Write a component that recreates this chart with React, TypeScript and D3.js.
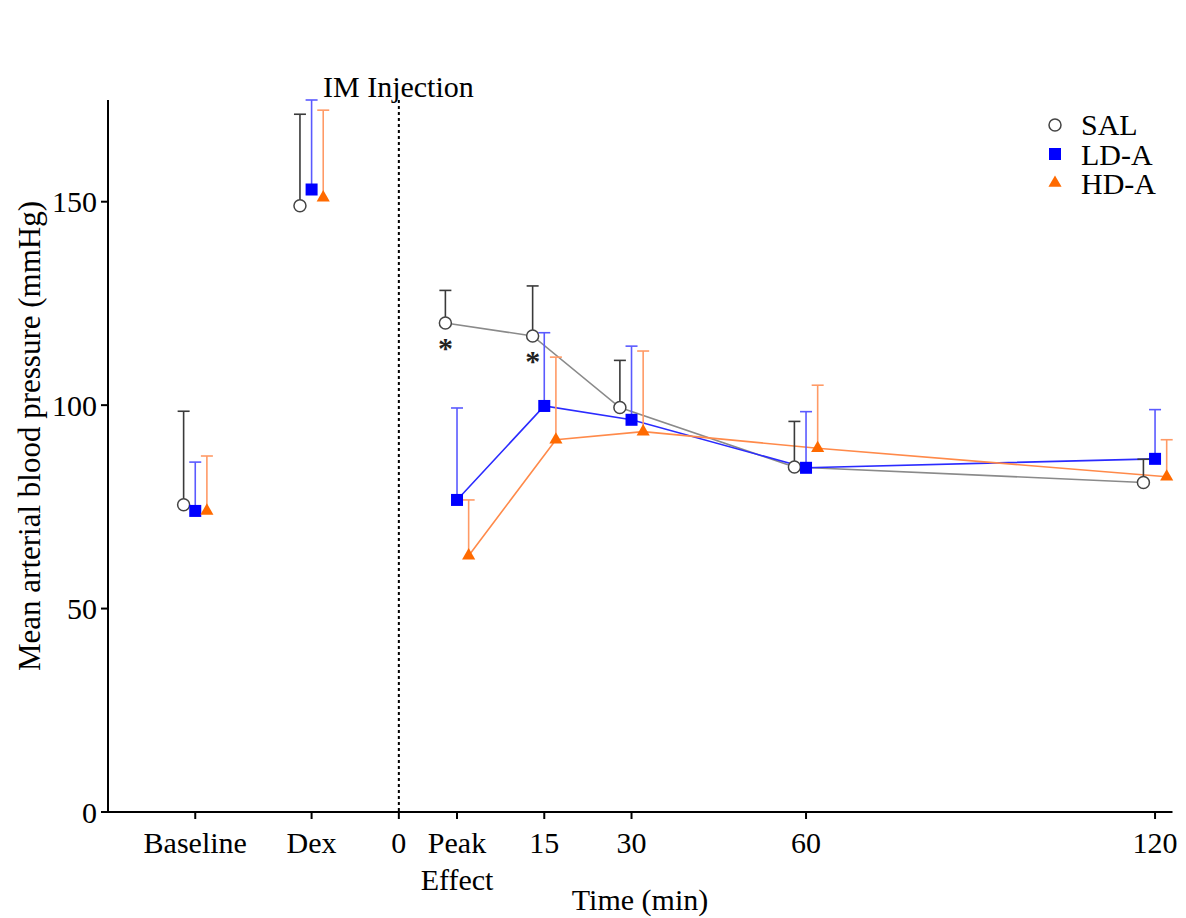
import React from "react";
import * as d3 from "d3";

const tickTimes = [-45, -25, -10, 0, 15, 30, 60, 120];
const tickLabels = ["Baseline", "Dex", "0", "Peak", "15", "30", "60", "120"];
const pointTimes = [-45, -25, 0, 15, 30, 60, 120];
const yTicks = [0, 50, 100, 150];

const salMean = [75.5, 149, 120.2, 117, 99.4, 84.8, 81];
const salErr = [23, 22.5, 8, 12.3, 11.6, 11.2, 5.7];
const ldMean = [74, 153, 76.7, 99.8, 96.4, 84.6, 86.8];
const ldErr = [12, 22, 22.6, 18, 18.1, 13.8, 12.1];
const hdMean = [74, 151, 63, 91.5, 93.5, 89.4, 82.4];
const hdErr = [13.5, 21.5, 13.7, 20.3, 19.8, 15.5, 9.1];

const seriesNames = ["SAL", "LD-A", "HD-A"];
const starIdx = [2, 3];

const FONT = "'Liberation Serif', 'Times New Roman', serif";

export default function App() {
  const W = 1186, H = 918;
  const x = d3.scaleLinear().domain([-60, 123]).range([108, 1172.5]);
  const y = d3.scaleLinear().domain([0, 175]).range([812, 100]);

  const series = [
    { name: seriesNames[0], mean: salMean, err: salErr, off: -2, line: "#8a8a8a", errc: "#3a3a3a", shape: "circle" },
    { name: seriesNames[1], mean: ldMean, err: ldErr, off: 0, line: "#2b2bff", errc: "#5a5aff", shape: "square" },
    { name: seriesNames[2], mean: hdMean, err: hdErr, off: 2, line: "#ff8a4a", errc: "#ff9a66", shape: "triangle" },
  ];

  const marker = (shape: string, cx: number, cy: number, key: string) => {
    if (shape === "circle")
      return <circle key={key} cx={cx} cy={cy} r={6} fill="#fff" stroke="#444" strokeWidth={1.5} />;
    if (shape === "square")
      return <rect key={key} x={cx - 6} y={cy - 6} width={12} height={12} fill="#0000ff" />;
    const tri = d3.symbol().type(d3.symbolTriangle).size(75)();
    return <path key={key} d={tri || ""} transform={`translate(${cx},${cy})`} fill="#ff6a00" />;
  };

  const lineGen = d3.line<[number, number]>().x((d) => d[0]).y((d) => d[1]);

  return (
    <svg width={W} height={H} style={{ position: "absolute", left: 0, top: 0, background: "#fff" }} fontFamily={FONT}>
      {/* axes */}
      <line x1={108} x2={108} y1={y(175)} y2={y(0) + 1} stroke="#000" strokeWidth={2} />
      <line x1={107} x2={x(123)} y1={y(0)} y2={y(0)} stroke="#000" strokeWidth={2} />
      {yTicks.map((t) => (
        <g key={"yt" + t}>
          <line x1={101} x2={108} y1={y(t)} y2={y(t)} stroke="#000" strokeWidth={2} />
          <text x={97} y={y(t)} dy="0.35em" textAnchor="end" fontSize={30} fill="#000">{t}</text>
        </g>
      ))}
      {tickTimes.map((t, i) => (
        <g key={"xt" + t}>
          <line x1={x(t)} x2={x(t)} y1={y(0)} y2={y(0) + 7} stroke="#000" strokeWidth={2} />
          <text x={x(t)} y={853} textAnchor="middle" fontSize={30} fill="#000">{tickLabels[i]}</text>
        </g>
      ))}
      <text x={x(0)} y={890} textAnchor="middle" fontSize={30} fill="#000">Effect</text>
      <text x={640} y={910} textAnchor="middle" fontSize={30} fill="#000">Time (min)</text>
      <text transform={`translate(40,436) rotate(-90)`} textAnchor="middle" fontSize={31} fill="#000">
        Mean arterial blood pressure (mmHg)
      </text>

      {/* injection line */}
      <line x1={x(-10)} x2={x(-10)} y1={y(175)} y2={y(0)} stroke="#000" strokeWidth={2} strokeDasharray="3,3" />
      <text x={323} y={97} fontSize={30} fill="#000">IM Injection</text>

      {/* lines */}
      {series.map((s) => (
        <path
          key={"ln" + s.name}
          d={lineGen(pointTimes.slice(2).map((t, i) => [x(t + s.off), y(s.mean[i + 2])])) || ""}
          fill="none"
          stroke={s.line}
          strokeWidth={1.6}
        />
      ))}
      {/* error bars */}
      {series.map((s) =>
        pointTimes.map((t, i) => {
          const cx = x(t + s.off);
          const top = y(s.mean[i] + s.err[i]);
          return (
            <g key={"eb" + s.name + i} stroke={s.errc} strokeWidth={1.6}>
              <line x1={cx} x2={cx} y1={y(s.mean[i])} y2={top} />
              <line x1={cx - 6} x2={cx + 6} y1={top} y2={top} />
            </g>
          );
        })
      )}
      {/* markers */}
      {series.map((s) => pointTimes.map((t, i) => marker(s.shape, x(t + s.off), y(s.mean[i]), "mk" + s.name + i)))}

      {/* significance */}
      {starIdx.map((i) => (
        <text key={"st" + i} x={x(pointTimes[i] - 2)} y={y(salMean[i]) + 35} textAnchor="middle" fontSize={30} fontWeight="bold" fill="#222">*</text>
      ))}

      {/* legend */}
      {series.map((s, i) => (
        <g key={"lg" + s.name}>
          {marker(s.shape, 1055, 125 + i * 29, "lgm" + i)}
          <text x={1081} y={135 + i * 29.5} fontSize={30} fill="#000">{s.name}</text>
        </g>
      ))}
    </svg>
  );
}
